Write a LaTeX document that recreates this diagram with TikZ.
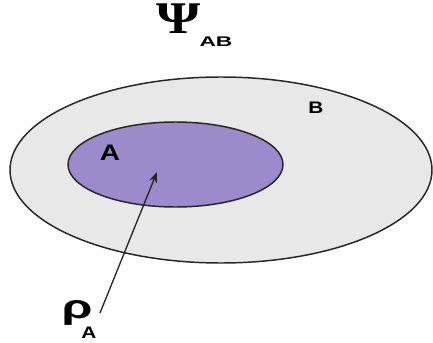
\documentclass[tikz,border=0pt]{standalone}
\usepackage{fontspec}
\setmainfont{Liberation Sans}
\newfontfamily\serifsym{Liberation Serif}
\usetikzlibrary{shapes.geometric,arrows.meta}
\definecolor{outergray}{HTML}{E8E8E8}
\definecolor{innerpurple}{HTML}{9B8BCB}
\tikzset{
  region/.style={ellipse, draw=black!85, line width=1.1pt, inner sep=0pt},
  lbl/.style={inner sep=0pt, font=\bfseries, xscale=1.25},
}
\begin{document}
\begin{tikzpicture}[x=0.75pt,y=-0.75pt]
\useasboundingbox (0,0) rectangle (433,343);
\node[region, fill=outergray, minimum width=316.5pt, minimum height=139.5pt] (outer) at (221,170) {};
\node[region, fill=innerpurple, minimum width=161.25pt, minimum height=63.75pt] (inner) at (175.5,164.5) {};
\node[lbl, font=\serifsym\bfseries\fontsize{34}{34}\selectfont, xscale=1.0] (psi) at (179,19) {Ψ};
\node[lbl, font=\bfseries\fontsize{10.5}{10.5}\selectfont, xscale=1.3] (ab) at (216,42) {AB};
\node[lbl, font=\bfseries\fontsize{16.8}{16.8}\selectfont] (la) at (110,153) {A};
\node[lbl, font=\bfseries\fontsize{12.5}{12.5}\selectfont] (lb) at (316,108) {B};
\node[lbl, font=\bfseries\fontsize{25}{25}\selectfont, xscale=1.2] (rho) at (77,313) {ρ};
\node[lbl, font=\bfseries\fontsize{12.5}{12.5}\selectfont] (rsub) at (89,333) {A};
\coordinate (tail) at (100,313);
\coordinate (tip) at (157,172);
\draw[line width=1pt, black!85, -{Stealth[length=8pt,width=6pt]}] (tail) -- (tip);
\end{tikzpicture}
\end{document}
